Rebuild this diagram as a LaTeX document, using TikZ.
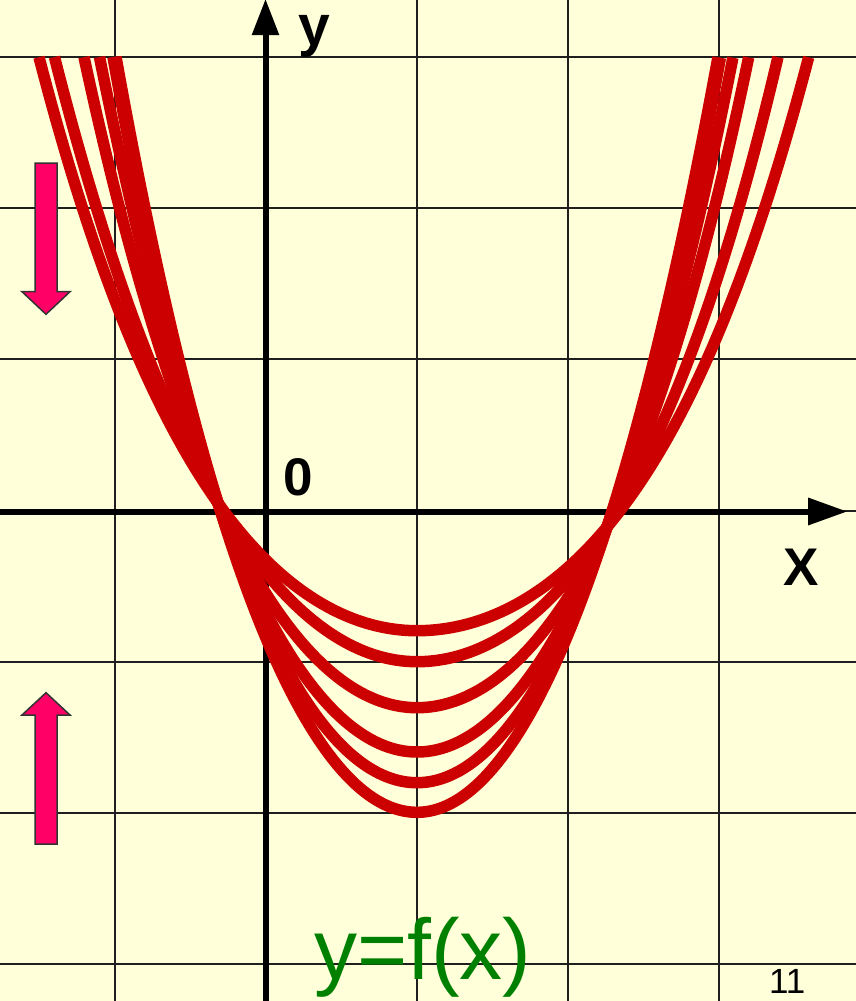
\documentclass[tikz,border=0pt]{standalone}
\usepackage{fontspec}
\setmainfont{Liberation Sans}
\definecolor{bgyellow}{RGB}{255,255,218}
\definecolor{curvered}{RGB}{204,0,0}
\definecolor{arrowpink}{RGB}{255,0,102}
\definecolor{funcgreen}{RGB}{0,128,0}
% crossing data (units of 100 px): distance of crossing from vertex column, height above x axis
\def\pcdL{1.99}\def\pchL{0.08}
\def\pcdR{1.90}\def\pchR{-0.16}
\newcommand{\parcurve}[3]{% #1 depth, #2 left top distance, #3 right top distance
  \pgfmathsetmacro{\pcD}{#1}%
  \pgfmathsetmacro{\pcPL}{\pchL+\pcD}%
  \pgfmathsetmacro{\pcuL}{\pcdL*\pcdL}%
  \pgfmathsetmacro{\pcwL}{#2*#2}%
  \pgfmathsetmacro{\pcCL}{((4.54+\pcD)/\pcwL-\pcPL/\pcuL)/(\pcwL-\pcuL)}%
  \pgfmathsetmacro{\pcBL}{\pcPL/\pcuL-\pcCL*\pcuL}%
  \pgfmathsetmacro{\pcPR}{\pchR+\pcD}%
  \pgfmathsetmacro{\pcuR}{\pcdR*\pcdR}%
  \pgfmathsetmacro{\pcwR}{#3*#3}%
  \pgfmathsetmacro{\pcCR}{((4.54+\pcD)/\pcwR-\pcPR/\pcuR)/(\pcwR-\pcuR)}%
  \pgfmathsetmacro{\pcBR}{\pcPR/\pcuR-\pcCR*\pcuR}%
  \draw[redcurve] plot[domain=#2:0,samples=90] ({417-100*\x},{511-100*(-\pcD+\pcBL*\x*\x+\pcCL*\x*\x*\x*\x)})
    -- plot[domain=0:#3,samples=90] ({417+100*\x},{511-100*(-\pcD+\pcBR*\x*\x+\pcCR*\x*\x*\x*\x)});
}
\tikzset{
  gridline/.style={draw=black!88, line width=1.8pt},
  axisline/.style={draw=black, line width=6pt},
  axishead/.style={fill=black},
  redcurve/.style={draw=curvered, line width=11.5pt, line join=round},
  blockarrow/.style={fill=arrowpink, draw=black!80, line width=1.5pt, line join=miter},
  boldlabel/.style={inner sep=0pt, outer sep=0pt, anchor=base west, font=\bfseries\fontsize{55}{60}\selectfont},
}
\begin{document}
\begin{tikzpicture}[x=1pt,y=-1pt]
\useasboundingbox (0,0) rectangle (856,1001);
\fill[bgyellow] (0,0) rectangle (856,1001);
\clip (0,0) rectangle (856,1001);
% grid
\foreach \gx in {115,417,568,719} \draw[gridline] (\gx,0) -- (\gx,1001);
\foreach \gy in {57,208,359,511,662,813,964} \draw[gridline] (0,\gy) -- (856,\gy);
% axes
\coordinate (ybot) at (265.5,1001);
\coordinate (ybase) at (265.5,35);
\coordinate (ytip) at (265.5,-0.5);
\coordinate (xleft) at (0,511.5);
\coordinate (xbase) at (808,511.5);
\coordinate (xtip) at (846.7,511.5);
\draw[axisline] (ybot) -- (ybase);
\fill[axishead] (251.7,35) -- (279.3,35) -- (ytip) -- cycle;
\draw[axisline] (xleft) -- (xbase);
\fill[axishead] (808,497.5) -- (808,525.5) -- (xtip) -- cycle;
% curves
\parcurve{1.197}{3.78}{3.917}
\parcurve{1.507}{3.625}{3.61}
\parcurve{1.967}{3.33}{3.317}
\parcurve{2.41}{3.175}{3.16}
\parcurve{2.717}{3.04}{3.035}
\parcurve{3.013}{3.01}{3.01}
% block arrows
\filldraw[blockarrow] (35,163) -- (57,163) -- (57,291.7) -- (70,291.7) -- (46,314.3) -- (22,291.7) -- (35,291.7) -- cycle;
\filldraw[blockarrow] (35,844) -- (57,844) -- (57,715) -- (70,715) -- (46,692.7) -- (22,715) -- (35,715) -- cycle;
% labels
\node[boldlabel, font=\bfseries\fontsize{57}{60}\selectfont] (ylab) at (298.5,45) {y};
\node[boldlabel, font=\bfseries\fontsize{53}{60}\selectfont] (zerolab) at (283,495) {0};
\node[boldlabel, font=\bfseries\fontsize{53}{60}\selectfont] (xlab) at (783,585) {X};
\node[inner sep=0pt, outer sep=0pt, anchor=base west, text=funcgreen, font=\fontsize{86}{90}\selectfont] (func) at (314,979) {y=f(x)};
\node[inner sep=0pt, outer sep=0pt, anchor=base west, text=black, font=\fontsize{35}{40}\selectfont] (pagenum) at (769,993) {11};
\end{tikzpicture}
\end{document}
